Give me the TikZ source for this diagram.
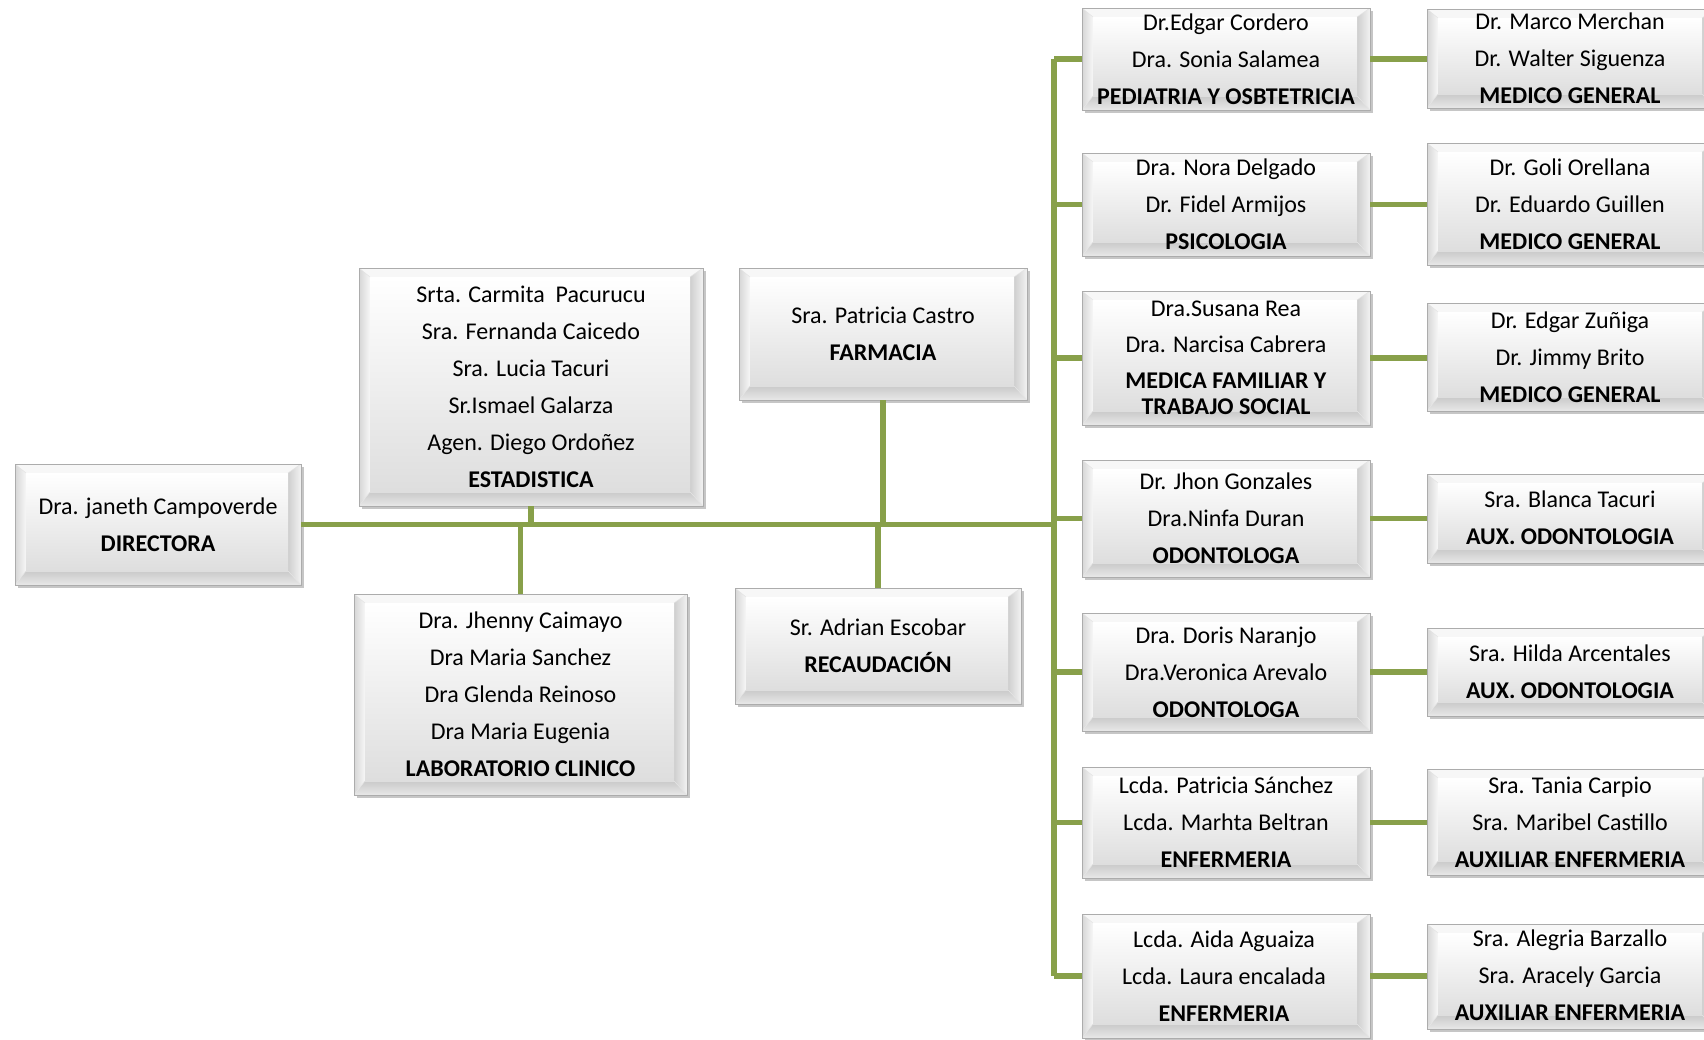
\documentclass[tikz,border=0pt]{standalone}
\usepackage{fontspec}
\setmainfont{Carlito}
\usetikzlibrary{shadows}
\definecolor{lnk}{RGB}{136,160,74}
\tikzset{
  bev/.style={rectangle, draw=gray!65, line width=0.7pt, fill=white, inner sep=0pt,
    drop shadow={shadow xshift=3pt, shadow yshift=-3pt, opacity=0.45, fill=gray},
    path picture={
      \path (path picture bounding box.north west) coordinate (pA)
            (path picture bounding box.north east) coordinate (pB)
            (path picture bounding box.south east) coordinate (pC)
            (path picture bounding box.south west) coordinate (pD);
      \path ([xshift=11pt,yshift=-9pt]pA) coordinate (qa)
            ([xshift=-13pt,yshift=-9pt]pB) coordinate (qb)
            ([xshift=-13pt,yshift=14pt]pC) coordinate (qc)
            ([xshift=11pt,yshift=14pt]pD) coordinate (qd);
      \fill[gray!6] (pA) -- (pB) -- (qb) -- (qa) -- cycle;
      \fill[left color=gray!32, right color=gray!6] (pD) -- (pA) -- (qa) -- (qd) -- cycle;
      \fill[left color=gray!38, right color=gray!10] (pB) -- (pC) -- (qc) -- (qb) -- cycle;
      \fill[top color=gray!42, bottom color=gray!18] (pC) -- (pD) -- (qd) -- (qc) -- cycle;
      \fill[top color=white, bottom color=gray!26] (qa) rectangle (qc);
      \draw[gray!22, line width=0.5pt] (pA) -- (qa) (pB) -- (qb) (pC) -- (qc) (pD) -- (qd);
    }},
  txt/.style={align=center, inner sep=0pt, font=\fontsize{24}{37}\selectfont},
  lnkline/.style={draw=lnk, line width=5.5pt}
}
\begin{document}
\begin{tikzpicture}[x=1pt, y=-1pt]
\useasboundingbox (0,0) rectangle (1704,1039);
\clip (0,0) rectangle (1704,1039);

% trunk reference
\coordinate (tk) at (1054,0);

% boxes
\node[bev, minimum width=286pt, minimum height=121pt] (dir) at (158,524.5) {};
\node[bev, minimum width=344pt, minimum height=238pt] (est) at (531,387) {};
\node[bev, minimum width=288pt, minimum height=132pt] (farm) at (883,334) {};
\node[bev, minimum width=333pt, minimum height=201pt] (lab) at (520.5,694.5) {};
\node[bev, minimum width=286pt, minimum height=116pt] (rec) at (878,646) {};

\node[bev, minimum width=288pt, minimum height=102pt] (ped) at (1226,59) {};
\node[bev, minimum width=288pt, minimum height=103pt] (psi) at (1226,204.5) {};
\node[bev, minimum width=288pt, minimum height=134pt] (mfam) at (1226,358) {};
\node[bev, minimum width=288pt, minimum height=117pt] (odA) at (1226,518.5) {};
\node[bev, minimum width=288pt, minimum height=118pt] (odB) at (1226,672) {};
\node[bev, minimum width=288pt, minimum height=111pt] (enA) at (1226,822.5) {};
\node[bev, minimum width=288pt, minimum height=124pt] (enB) at (1226,976) {};

\node[bev, minimum width=288pt, minimum height=99pt] (mgA) at (1571,58.5) {};
\node[bev, minimum width=288pt, minimum height=122pt] (mgB) at (1571,204) {};
\node[bev, minimum width=288pt, minimum height=108pt] (mgC) at (1571,357) {};
\node[bev, minimum width=288pt, minimum height=89pt] (aoA) at (1571,518.5) {};
\node[bev, minimum width=288pt, minimum height=88pt] (aoB) at (1571,672) {};
\node[bev, minimum width=288pt, minimum height=106pt] (aeA) at (1571,822) {};
\node[bev, minimum width=288pt, minimum height=105pt] (aeB) at (1571,976.5) {};

% connectors
\path[lnkline] (dir.east) -- (dir.east -| tk);
\path[lnkline] (ped.west -| tk) -- (enB.west -| tk);
\foreach \n in {ped,psi,mfam,odA,odB,enA,enB}
  \path[lnkline] (\n.west -| tk) -- (\n.west);
\path[lnkline] (est.south) -- (est.south |- dir.east);
\path[lnkline] (lab.north |- dir.east) -- (lab.north);
\path[lnkline] (farm.south) -- (farm.south |- dir.east);
\path[lnkline] (rec.north |- dir.east) -- (rec.north);
\path[lnkline] (ped.east) -- (ped.east -| mgA.west);
\path[lnkline] (psi.east) -- (psi.east -| mgB.west);
\path[lnkline] (mfam.east) -- (mfam.east -| mgC.west);
\path[lnkline] (odA.east) -- (odA.east -| aoA.west);
\path[lnkline] (odB.east) -- (odB.east -| aoB.west);
\path[lnkline] (enA.east) -- (enA.east -| aeA.west);
\path[lnkline] (enB.east) -- (enB.east -| aeB.west);

% texts
\node[txt] (dirT) at (dir) {Dra. janeth Campoverde\\\textbf{DIRECTORA}};
\node[txt] (estT) at (est) {Srta. Carmita\ \ Pacurucu\\Sra. Fernanda Caicedo\\Sra. Lucia Tacuri\\Sr.Ismael Galarza\\Agen. Diego Ordoñez\\\textbf{ESTADISTICA}};
\node[txt] (farmT) at (farm) {Sra. Patricia Castro\\\textbf{FARMACIA}};
\node[txt] (labT) at (lab) {Dra. Jhenny Caimayo\\Dra Maria Sanchez\\Dra Glenda Reinoso\\Dra Maria Eugenia\\\textbf{LABORATORIO CLINICO}};
\node[txt] (recT) at (rec) {Sr. Adrian Escobar\\\textbf{RECAUDACIÓN}};

\node[txt] (pedT) at (ped) {Dr.Edgar Cordero\\Dra. Sonia Salamea\\\textbf{PEDIATRIA Y OSBTETRICIA}};
\node[txt] (psiT) at (psi) {Dra. Nora Delgado\\Dr. Fidel Armijos\\\textbf{PSICOLOGIA}};
\node[txt, font=\fontsize{24}{36}\selectfont] (mfamT) at (mfam) {Dra.Susana Rea\\Dra. Narcisa Cabrera\\\textbf{MEDICA FAMILIAR Y}\\[-10pt]\textbf{TRABAJO SOCIAL}};
\node[txt] (odAT) at (odA) {Dr. Jhon Gonzales\\Dra.Ninfa Duran\\\textbf{ODONTOLOGA}};
\node[txt] (odBT) at (odB) {Dra. Doris Naranjo\\Dra.Veronica Arevalo\\\textbf{ODONTOLOGA}};
\node[txt] (enAT) at (enA) {Lcda. Patricia Sánchez\\Lcda. Marhta Beltran\\\textbf{ENFERMERIA}};
\node[txt] (enBT) at (1224,976) {Lcda. Aida Aguaiza\\Lcda. Laura encalada\\\textbf{ENFERMERIA}};

\node[txt] (mgAT) at (1570,58) {Dr. Marco Merchan\\Dr. Walter Siguenza\\\textbf{MEDICO GENERAL}};
\node[txt] (mgBT) at (1570,204) {Dr. Goli Orellana\\Dr. Eduardo Guillen\\\textbf{MEDICO GENERAL}};
\node[txt] (mgCT) at (1570,357) {Dr. Edgar Zuñiga\\Dr. Jimmy Brito\\\textbf{MEDICO GENERAL}};
\node[txt] (aoAT) at (1570,518) {Sra. Blanca Tacuri\\\textbf{AUX. ODONTOLOGIA}};
\node[txt] (aoBT) at (1570,672) {Sra. Hilda Arcentales\\\textbf{AUX. ODONTOLOGIA}};
\node[txt] (aeAT) at (1570,822) {Sra. Tania Carpio\\Sra. Maribel Castillo\\\textbf{AUXILIAR ENFERMERIA}};
\node[txt] (aeBT) at (1570,975) {Sra. Alegria Barzallo\\Sra. Aracely Garcia\\\textbf{AUXILIAR ENFERMERIA}};
\end{tikzpicture}
\end{document}
